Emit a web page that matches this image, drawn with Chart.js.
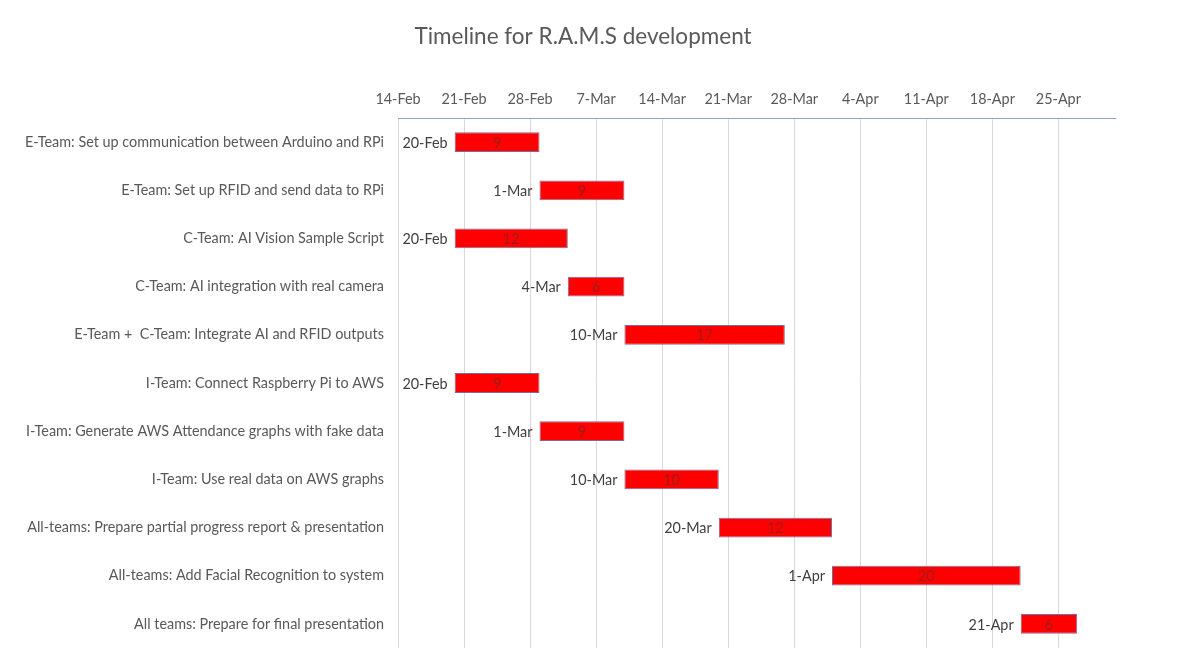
<!DOCTYPE html>
<html>
<head>
<meta charset="utf-8">
<script src="https://cdn.jsdelivr.net/npm/chart.js@4.4.1/dist/chart.umd.min.js"></script>
<style>
html,body{margin:0;padding:0;background:#fff;overflow:hidden;}
#wrap{width:1181px;height:664px;position:relative;}
canvas{display:block;}
</style>
</head>
<body>
<div id="wrap"><canvas id="c" width="1181" height="664"></canvas></div>
<script>
const chartTitle = 'Timeline for R.A.M.S development';
const tasks = [
  'E-Team: Set up communication between Arduino and RPi',
  'E-Team: Set up RFID and send data to RPi',
  'C-Team: AI Vision Sample Script',
  'C-Team: AI integration with real camera',
  'E-Team +  C-Team: Integrate AI and RFID outputs',
  'I-Team: Connect Raspberry Pi to AWS',
  'I-Team: Generate AWS Attendance graphs with fake data',
  'I-Team: Use real data on AWS graphs',
  'All-teams: Prepare partial progress report & presentation',
  'All-teams: Add Facial Recognition to system',
  'All teams: Prepare for final presentation'
];
const startDates = ['20-Feb','1-Mar','20-Feb','4-Mar','10-Mar','20-Feb','1-Mar','10-Mar','20-Mar','1-Apr','21-Apr'];
const durations = [9, 9, 12, 6, 17, 9, 9, 10, 12, 20, 6];
const axisStart = '14-Feb';
const axisEnd = '1-May';
const tickStepDays = 7;

const MONTHS = ['Jan','Feb','Mar','Apr','May','Jun','Jul','Aug','Sep','Oct','Nov','Dec'];
const YEAR = 2019;
function toUTC(s){ const [d,m] = s.split('-'); return Date.UTC(YEAR, MONTHS.indexOf(m), +d); }
const DAY = 86400000;
const base = toUTC(axisStart);
function dayOffset(s){ return Math.round((toUTC(s) - base)/DAY); }
function fmt(off){ const d = new Date(base + off*DAY); return d.getUTCDate() + '-' + MONTHS[d.getUTCMonth()]; }

const bars = startDates.map((s,i)=>[dayOffset(s), dayOffset(s)+durations[i]]);

const FONT = 'Lato';
const labelPlugin = {
  id:'ganttLabels',
  afterDatasetsDraw(chart){
    const ctx = chart.ctx;
    const meta = chart.getDatasetMeta(0);
    ctx.save();
    meta.data.forEach((el,i)=>{
      const p = el.getProps(['x','y','base'], true);
      const left = Math.min(p.x,p.base), right = Math.max(p.x,p.base);
      ctx.font = '14.4px ' + FONT;
      ctx.fillStyle = '#404040';
      ctx.textAlign = 'right';
      ctx.textBaseline = 'middle';
      ctx.fillText(startDates[i], left - 7, p.y + 1);
      ctx.fillStyle = '#9B1B1B';
      ctx.textAlign = 'center';
      ctx.fillText(String(durations[i]), (left+right)/2, p.y + 1);
    });
    ctx.restore();
  },
  afterDraw(chart){
    const ctx = chart.ctx;
    ctx.save();
    ctx.font = '22.5px ' + FONT;
    ctx.fillStyle = '#595959';
    ctx.textAlign = 'center';
    ctx.textBaseline = 'middle';
    ctx.fillText(chartTitle, 583, 37);
    ctx.restore();
  }
};

new Chart(document.getElementById('c'), {
  type:'bar',
  data:{
    labels: tasks,
    datasets:[{
      data: bars,
      backgroundColor:'#FF0000',
      borderColor:'#7B6A9E',
      borderWidth:1,
      borderSkipped:false,
      barPercentage:0.82,
      categoryPercentage:0.5
    }]
  },
  options:{
    indexAxis:'y',
    responsive:false,
    animation:false,
    layout:{padding:{left:0,right:66,top:49,bottom:16}},
    plugins:{
      legend:{display:false},
      tooltip:{enabled:false},
      title:{display:false}
    },
    scales:{
      x:{
        position:'top',
        type:'linear',
        min:0,
        max:dayOffset(axisEnd),
        afterBuildTicks(scale){
          scale.ticks = scale.ticks.filter(t=>t.value % tickStepDays === 0);
        },
        afterFit(scale){ scale.height = 69; },
        ticks:{
          stepSize:tickStepDays,
          autoSkip:false,
          maxRotation:0,
          padding:10,
          color:'#595959',
          font:{family:FONT,size:14.4},
          callback:(v)=>fmt(v)
        },
        grid:{color:'#D9D9D9',drawTicks:false,lineWidth:1},
        border:{display:true,color:'#8EA4C1',width:1}
      },
      y:{
        afterFit(scale){ scale.width = 398; scale.paddingTop = 0; scale.paddingBottom = 0; },
        ticks:{
          padding:14,
          color:'#595959',
          font:{family:FONT,size:14.4},
          autoSkip:false
        },
        grid:{display:false,drawTicks:false},
        border:{display:false}
      }
    }
  },
  plugins:[labelPlugin]
});
</script>
</body>
</html>
